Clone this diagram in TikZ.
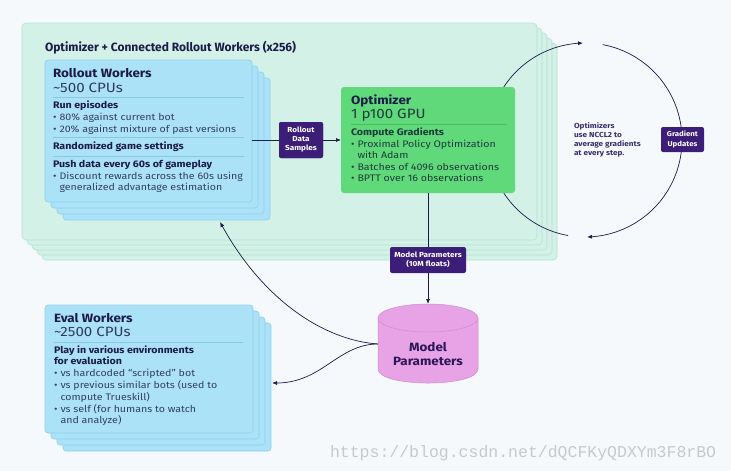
\documentclass[tikz,border=0pt]{standalone}
\usepackage{fontspec}
\setmainfont[FakeStretch=1.12]{Fira Sans}
\newfontfamily\plainf{Fira Sans}
\newfontfamily\wmfont{Liberation Mono}
\usetikzlibrary{arrows.meta}
\definecolor{bgc}{HTML}{F6F9FB}
\definecolor{greenfill}{HTML}{D3F1E7}
\definecolor{greenedge}{HTML}{B4E2D1}
\definecolor{bluefill}{HTML}{ABE2F8}
\definecolor{blueedge}{HTML}{8ED0EC}
\definecolor{optgreen}{HTML}{60D97B}
\definecolor{purp}{HTML}{3C1E78}
\definecolor{navy}{HTML}{1B1B47}
\definecolor{subc}{HTML}{2E3B5E}
\definecolor{bodyc}{HTML}{33405F}
\definecolor{optbody}{HTML}{1E3B3B}
\definecolor{sepc}{HTML}{86C8E4}
\definecolor{optsep}{HTML}{49BD63}
\definecolor{pinkfill}{HTML}{E8A3E6}
\definecolor{pinkedge}{HTML}{D08BD0}
\definecolor{mptext}{HTML}{2A1659}
\definecolor{nccl}{HTML}{3B2E6E}
\definecolor{wmc}{HTML}{C9C9C9}
\newcommand\bitem[5]{\node[#5] (#1b) at (#2,#3) {\textbullet}; \node[#5] (#1) at ({#2+6.5},#3) {#4};}
\tikzset{
 base/.style={inner sep=0pt, outer sep=0pt},
 gbox/.style={base, draw=greenedge, fill=greenfill, rounded corners=4pt, line width=0.6pt, anchor=north west},
 bbox/.style={base, draw=blueedge, fill=bluefill, rounded corners=3pt, line width=0.6pt, anchor=north west},
 obox/.style={base, fill=optgreen, rounded corners=3pt, anchor=north west},
 pbox/.style={base, fill=purp, rounded corners=2pt, text=white, font=\fontsize{7.3}{9}\selectfont\bfseries, align=center},
 hd/.style={base, anchor=base west, text=navy, font=\fontsize{12}{14}\selectfont\bfseries},
 sb/.style={base, anchor=base west, text=subc, font=\fontsize{13.5}{15}\selectfont},
 bt/.style={base, anchor=base west, text=navy, font=\fontsize{9.5}{11}\selectfont\bfseries},
 tx/.style={base, anchor=base west, text=bodyc, font=\fontsize{9.5}{11}\selectfont},
 otx/.style={base, anchor=base west, text=optbody, font=\fontsize{9.5}{11}\selectfont},
 ncc/.style={base, anchor=base west, text=nccl, font=\fontsize{7.3}{9}\selectfont\bfseries},
 sepl/.style={draw=sepc, line width=0.5pt},
 conn/.style={draw=navy, line width=0.7pt},
 tip/.style={-{Latex[length=5pt,width=4pt]}},
}
\begin{document}
\begin{tikzpicture}[x=1pt,y=-1pt]
\useasboundingbox (0,0) rectangle (731,471);
\fill[bgc] (0,0) rectangle (731,471);
% outer green stack
\foreach \k in {4,3,2,1}{
  \node[gbox, minimum width=515, minimum height=217] (ogl\k) at ({22+5*\k},{23+5*\k}) {};
}
\node[gbox, minimum width=515, minimum height=217] (og) at (22,23) {};
\node[base, anchor=base west, text=navy, font=\plainf\fontsize{12}{14}\selectfont\bfseries] (title) at (45,51) {Optimizer + Connected Rollout Workers (x256)};
% circle of gradient updates
\draw[conn, tip] plot[domain=100:268.8, samples=80] ({585+97*cos(\x)}, {140+97*sin(\x)});
\draw[conn, tip] plot[domain=-79.5:88.8, samples=80] ({585+97*cos(\x)}, {140+97*sin(\x)});
% coordinates
\coordinate (rwin) at (220,222);
\coordinate (evin) at (272,383);
\coordinate (mpw) at (378,344);
\coordinate (mptop) at (428,304);
% purple labels
\node[pbox, minimum width=44, minimum height=36] (rds) at (301,140) {Rollout\\Data\\Samples};
\node[pbox, minimum width=76, minimum height=26] (mpl) at (428,260) {Model Parameters\\(10M floats)};
% rollout workers stack
\foreach \k in {3,2,1}{
  \node[bbox, minimum width=207, minimum height=142] (rwl\k) at ({45+6*\k},{60+6*\k}) {};
}
\node[bbox, minimum width=207, minimum height=142] (rw) at (45,60) {};
% eval workers stack
\foreach \k in {3,2,1}{
  \node[bbox, minimum width=208, minimum height=128] (evl\k) at ({45+6*\k},{305+6*\k}) {};
}
\node[bbox, minimum width=208, minimum height=128] (ev) at (45,305) {};
% optimizer
\node[obox, minimum width=174, minimum height=106] (opt) at (341,87) {};
% connectors
\draw[conn] (rds.west -| rw.east) -- (rds.west);
\draw[conn, tip] (rds.east) -- (rds.east -| opt.west);
\draw[conn] (opt.south) -- (mpl.north);
\draw[conn, tip] (mpl.south) -- (mptop);
\draw[conn, tip] (mpw) .. controls (322,340) and (262,298) .. (rwin);
\draw[conn, tip] (mpw) .. controls (338,344) and (322,383) .. (evin);
\node[pbox, minimum width=44, minimum height=36] (rds2) at (rds) {Rollout\\Data\\Samples};
% cylinder
\fill[pinkfill] (378,318) -- (378,369) .. controls (378,387.7) and (478,387.7) .. (478,369) -- (478,318) -- cycle;
\draw[pinkedge, line width=0.5pt] (378,318) -- (378,369) .. controls (378,387.7) and (478,387.7) .. (478,369) -- (478,318);
\draw[pinkedge, fill=pinkfill, line width=0.5pt] (428,318) ellipse [x radius=50, y radius=14];
\node[base, anchor=base, text=mptext, font=\fontsize{12}{14}\selectfont\bfseries] (mp) at (428,351) {Model};
\node[base, anchor=base, text=mptext, font=\fontsize{12}{14}\selectfont\bfseries] (mp2) at (428,365) {Parameters};
% gradient updates
\node[pbox, minimum width=43, minimum height=25, font=\fontsize{7}{10}\selectfont\bfseries] (gu) at (682.5,139.5) {Gradient\\Updates};
\node[ncc] (n1) at (574,128) {Optimizers};
\node[ncc] (n2) at (574,137) {use NCCL2 to};
\node[ncc] (n3) at (574,146) {average gradients};
\node[ncc] (n4) at (574,155) {at every step.};
% rollout text
\node[hd] (rw1) at (53,77) {Rollout Workers};
\node[sb] (rw2) at (53,92) {\textasciitilde500 CPUs};
\draw[sepl] (53,97) -- (244,97);
\node[bt] (rw3) at (53,108) {Run episodes};
\bitem{rw4}{53}{120}{80\% against current bot}{tx}
\bitem{rw5}{53}{132}{20\% against mixture of past versions}{tx}
\draw[sepl] (53,137) -- (244,137);
\node[bt] (rw6) at (53,149) {Randomized game settings};
\draw[sepl] (53,156) -- (244,156);
\node[bt] (rw7) at (53,167) {Push data every 60s of gameplay};
\bitem{rw8}{53}{179}{Discount rewards across the 60s using}{tx}
\node[tx] (rw9) at (59.5,190) {generalized advantage estimation};
% optimizer text
\node[hd] (op1) at (351,104) {Optimizer};
\node[sb, text=optbody] (op2) at (351,118) {1 p100 GPU};
\draw[optsep, line width=0.5pt] (351,124) -- (507,124);
\node[bt, text=optbody] (op3) at (351,135) {Compute Gradients};
\bitem{op4}{351}{147}{Proximal Policy Optimization}{otx}
\node[otx] (op5) at (357.5,158.5) {with Adam};
\bitem{op6}{351}{170}{Batches of 4096 observations}{otx}
\bitem{op7}{351}{181.5}{BPTT over 16 observations}{otx}
% eval text
\node[hd] (ev1) at (54,322) {Eval Workers};
\node[sb] (ev2) at (54,336) {\textasciitilde2500 CPUs};
\draw[sepl] (54,342) -- (243,342);
\node[bt] (ev3) at (54,353) {Play in various environments};
\node[bt] (ev4) at (54,364) {for evaluation};
\bitem{ev5}{54}{376}{vs hardcoded “scripted” bot}{tx}
\bitem{ev6}{54}{388}{vs previous similar bots (used to}{tx}
\node[tx] (ev7) at (60.5,400) {compute Trueskill)};
\bitem{ev8}{54}{412}{vs self (for humans to watch}{tx}
\node[tx] (ev9) at (60.5,423) {and analyze)};
% watermark
\node[base, anchor=base west, text=wmc, font=\wmfont\fontsize{16.5}{18}\selectfont] (wm) at (330,457) {https://blog.csdn.net/dQCFKyQDXYm3F8rBO};
\end{tikzpicture}
\end{document}
